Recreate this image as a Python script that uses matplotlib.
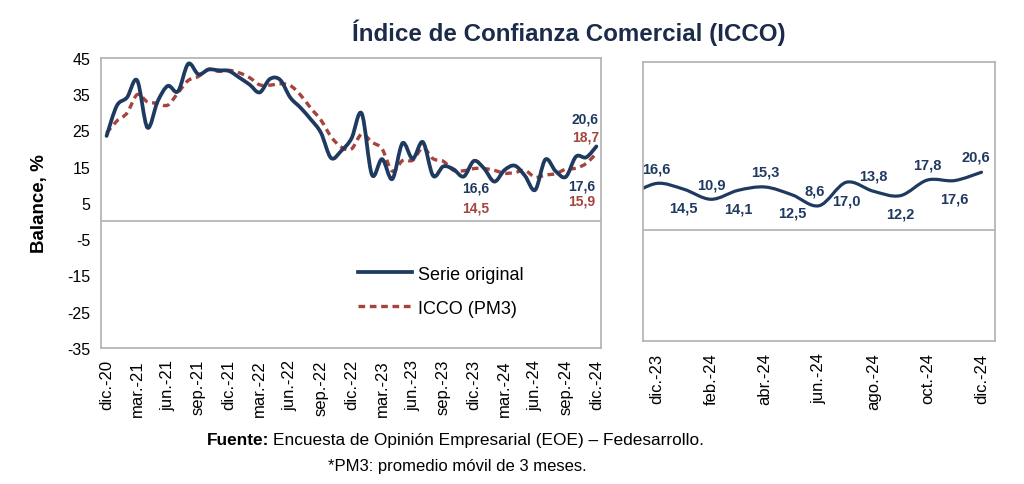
import matplotlib
matplotlib.use("Agg")
import matplotlib.pyplot as plt
from matplotlib.path import Path
from matplotlib.patches import PathPatch
from matplotlib.lines import Line2D

plt.rcParams['font.family'] = ['Liberation Sans', 'DejaVu Sans']

# meses dic-20 ... dic-24
serie = [23.5, 31.8, 34.1, 38.8, 25.8, 33.0, 37.3, 35.8, 43.4, 40.5, 41.8, 41.6,
         41.4, 39.6, 37.7, 35.5, 39.2, 39.0, 34.1, 31.3, 28.1, 24.4, 17.4, 19.4,
         22.8, 29.7, 12.8, 17.1, 11.6, 21.5, 17.2, 21.8, 12.5, 15.1, 14.3, 12.3,
         16.6, 14.5, 10.9, 14.1, 15.3, 12.5, 8.6, 17.0, 13.8, 12.2, 17.8, 17.6, 20.6]
pm3 = [24.3, 27.6, 29.8, 34.9, 32.9, 32.5, 32.0, 35.4, 38.8, 39.9, 41.9, 41.3,
       41.6, 40.9, 39.6, 37.6, 37.5, 37.9, 37.4, 34.8, 31.2, 27.9, 23.3, 20.4,
       19.9, 24.0, 21.8, 19.9, 13.8, 16.7, 16.8, 20.2, 17.2, 16.5, 14.0, 13.9,
       14.5, 14.5, 14.0, 13.2, 13.4, 14.0, 12.1, 12.7, 13.1, 14.3, 14.6, 15.9, 18.7]
ticks_izq = ['dic.-20', 'mar.-21', 'jun.-21', 'sep.-21', 'dic.-21', 'mar.-22',
             'jun.-22', 'sep.-22', 'dic.-22', 'mar.-23', 'jun.-23', 'sep.-23',
             'dic.-23', 'mar.-24', 'jun.-24', 'sep.-24', 'dic.-24']
ticks_der = ['dic.-23', 'feb.-24', 'abr.-24', 'jun.-24', 'ago.-24', 'oct.-24', 'dic.-24']
# ultimo año (dic-23 ... dic-24) con nov-23 antes
ultimo = serie[35:]
etiquetas_der = ['16,6', '14,5', '10,9', '14,1', '15,3', '12,5', '8,6',
                 '17,0', '13,8', '12,2', '17,8', '17,6', '20,6']

AZUL = '#1f3a60'
ROJO = '#a5433d'
GRIS = '#b0b0b0'


def curva(x, y):
    # curva suavizada tipo Excel (catmull-rom -> bezier)
    verts = [(x[0], y[0])]
    codes = [Path.MOVETO]
    n = len(x)
    for i in range(n - 1):
        x0, y0 = (x[i - 1], y[i - 1]) if i > 0 else (x[i], y[i])
        x3, y3 = (x[i + 2], y[i + 2]) if i + 2 < n else (x[i + 1], y[i + 1])
        c1 = (x[i] + (x[i + 1] - x0) / 6, y[i] + (y[i + 1] - y0) / 6)
        c2 = (x[i + 1] - (x3 - x[i]) / 6, y[i + 1] - (y3 - y[i]) / 6)
        verts += [c1, c2, (x[i + 1], y[i + 1])]
        codes += [Path.CURVE4] * 3
    return Path(verts, codes)


fig = plt.figure(figsize=(10.24, 4.85), dpi=100)
ax1 = fig.add_axes([0.0991, 0.2804, 0.4883, 0.598])
ax2 = fig.add_axes([0.6282, 0.2942, 0.3435, 0.5753])

# ---- panel izquierdo ----
x = list(range(len(serie)))
ax1.add_patch(PathPatch(curva(x, pm3), facecolor='none', edgecolor=ROJO, lw=2.4,
                        linestyle=(0, (2.0, 1.4)), capstyle='butt'))
ax1.add_patch(PathPatch(curva(x, serie), facecolor='none', edgecolor=AZUL, lw=2.7,
                        capstyle='round', joinstyle='round'))
ax1.axhline(0, color=GRIS, lw=1.2)
ax1.set_xlim(-0.5, len(serie) - 0.5)
ax1.set_ylim(-35, 45)
ax1.set_yticks(range(-35, 46, 10))
ax1.set_yticklabels([str(v) for v in range(-35, 46, 10)], fontsize=11.5)
ax1.set_xticks(range(0, len(serie), 3))
ax1.set_xticklabels(ticks_izq, rotation=90, fontsize=12)
ax1.tick_params(length=0, pad=8)
ax1.set_ylabel('Balance, %', fontsize=13.5, fontweight='bold', labelpad=14)

for txt, xi, yi, dx, dy, col in [('20,6', 48, 20.6, -8, 20, AZUL),
                                  ('18,7', 48, 18.7, -7.5, 12, ROJO),
                                  ('16,6', 36, 16.6, 1, -19, AZUL),
                                  ('14,5', 36, 14.5, 1, -28, ROJO),
                                  ('17,6', 47, 17.6, -3, -20, AZUL),
                                  ('15,9', 47, 15.9, -3, -26.5, ROJO)]:
    ax1.annotate(txt, (xi, yi), xytext=(dx, dy), textcoords='offset points',
                 ha='center', va='center', fontsize=10, fontweight='bold', color=col)

handles = [Line2D([], [], color=AZUL, lw=2.7),
           Line2D([], [], color=ROJO, lw=2.4, linestyle=(0, (2.0, 1.4)))]
ax1.legend(handles, ['Serie original', 'ICCO (PM3)'], loc='upper left',
           bbox_to_anchor=(0.48, 0.34), frameon=False, fontsize=13,
           handlelength=3.0, labelspacing=0.95, handletextpad=0.35)

# ---- panel derecho ----
xd = list(range(-1, len(ultimo) - 1))
ax2.add_patch(PathPatch(curva(xd, ultimo), facecolor='none', edgecolor=AZUL, lw=2.3,
                        capstyle='round', joinstyle='round'))
ax2.axhline(0, color=GRIS, lw=1.2)
ax2.set_xlim(-0.5, 12.5)
ax2.set_ylim(-40, 60)
ax2.set_yticks([])
ax2.set_xticks(range(0, 13, 2))
ax2.set_xticklabels(ticks_der, rotation=90, fontsize=12)
ax2.tick_params(length=0, pad=8)

for i, txt in enumerate(etiquetas_der):
    dy = 11 if i % 2 == 0 else -13
    dx = 0
    if i == 6:
        dx = -3
    if i == 12:
        dx = -4
    ax2.annotate(txt, (i, ultimo[i + 1]), xytext=(dx, dy), textcoords='offset points',
                 ha='center', va='center', fontsize=10.5, fontweight='bold', color=AZUL)

for ax in (ax1, ax2):
    for s in ax.spines.values():
        s.set_color(GRIS)
        s.set_linewidth(1.2)

fig.text(0.555, 0.932, 'Índice de Confianza Comercial (ICCO)', ha='center', va='center',
         fontsize=17.4, fontweight='bold', color='#1c2b4a',
         family=['Liberation Sans Narrow', 'Liberation Sans', 'DejaVu Sans'])
fig.text(0.263, 0.091, 'Fuente:', ha='right', va='center', fontsize=12.4,
         fontweight='bold')
fig.text(0.2665, 0.091, 'Encuesta de Opinión Empresarial (EOE) – Fedesarrollo.',
         ha='left', va='center', fontsize=12.4)
fig.text(0.447, 0.039, '*PM3: promedio móvil de 3 meses.', ha='center', va='center',
         fontsize=12)

fig.savefig('out.png', dpi=100)
